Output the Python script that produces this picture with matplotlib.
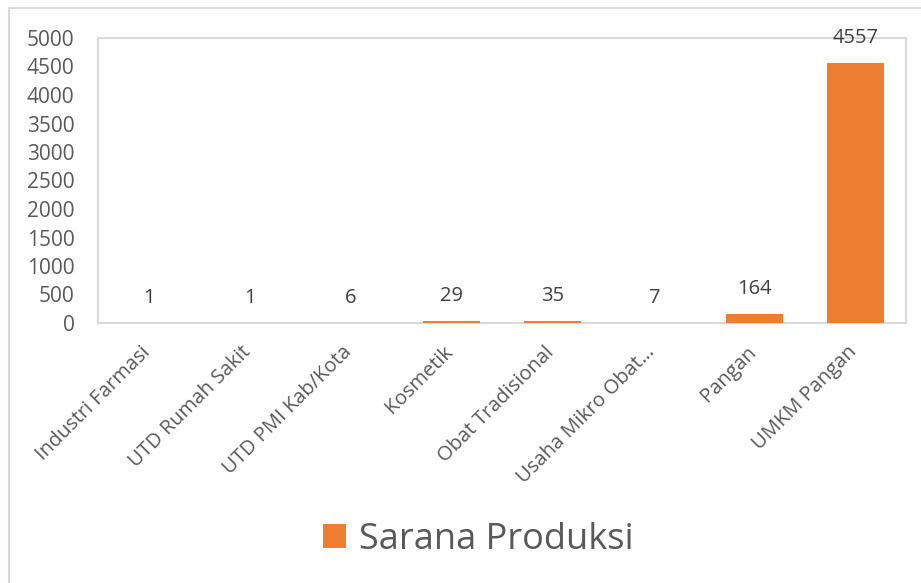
import matplotlib.pyplot as plt
from matplotlib.patches import Rectangle

categories = ['Industri Farmasi', 'UTD Rumah Sakit', 'UTD PMI Kab/Kota', 'Kosmetik',
              'Obat Tradisional', 'Usaha Mikro Obat…', 'Pangan', 'UMKM Pangan']
values = [1, 1, 6, 29, 35, 7, 164, 4557]
series_name = 'Sarana Produksi'

orange = '#ED7D31'
txt = '#595959'
line = '#D9D9D9'

plt.rcParams['font.family'] = ['Open Sans', 'DejaVu Sans']

fig = plt.figure(figsize=(9.21, 5.83), dpi=100)
ax = fig.add_axes([98/921, 1 - 323/583, 808/921, 285/583])

x = range(len(categories))
bars = ax.bar(x, values, width=0.57, color=orange, label=series_name, zorder=3)

for xi, v in zip(x, values):
    ax.annotate(str(v), (xi, v), xytext=(0, 18), textcoords='offset points',
                ha='center', va='center', fontsize=14.5, color='#404040',
                annotation_clip=False, zorder=5)

ax.set_xlim(-0.5, len(categories) - 0.5)
ax.set_ylim(0, 5000)
ax.set_yticks(range(0, 5001, 500))
ax.tick_params(axis='y', length=0, pad=17, labelsize=15, labelcolor=txt)
ax.tick_params(axis='x', length=0)
ax.set_xticks(list(x))
ax.set_xticklabels([])
for sp in ax.spines.values():
    sp.set_color(line)
    sp.set_linewidth(1.5)
    sp.set_zorder(1)

for xi, c in zip(x, categories):
    ax.annotate(c, (xi, 0), xytext=(-1, -19), textcoords='offset points',
                rotation=45, rotation_mode='anchor', ha='right', va='center',
                fontsize=14.5, color=txt, annotation_clip=False)

fig.legend(handles=[bars], labels=[series_name], loc='center',
           bbox_to_anchor=(478/921, 1 - 540/583), frameon=False,
           fontsize=26, labelcolor=txt, handlelength=0.65, handleheight=0.65,
           handletextpad=0.35)

fig.patches.append(Rectangle((9/921, -0.1), 1.2, 1 - 8/583 + 0.1,
                             transform=fig.transFigure, fill=False,
                             edgecolor=line, linewidth=1.5))

fig.savefig('out.png', dpi=100)
